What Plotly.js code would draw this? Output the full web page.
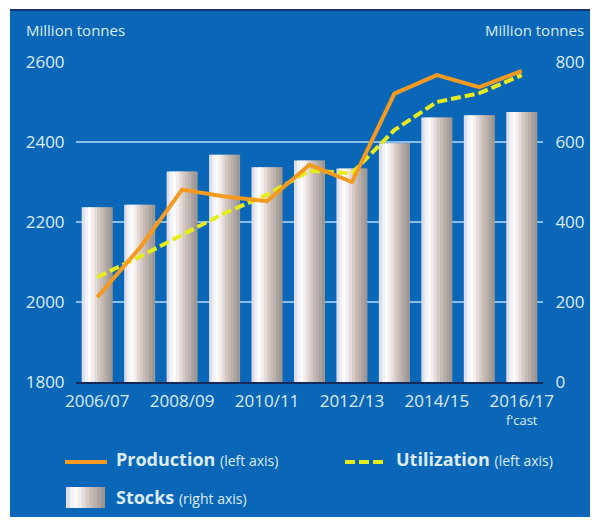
<!DOCTYPE html>
<html>
<head>
<meta charset="utf-8">
<script src="https://cdn.plot.ly/plotly-3.0.1.min.js"></script>
<style>
  html, body { margin: 0; padding: 0; background: #ffffff; width: 595px; height: 520px; overflow: hidden; }
  #topline { position: absolute; left: 10px; top: 9px; width: 580px; height: 2px; background: #1b2f6e; }
  #chart { position: absolute; left: 10px; top: 10px; width: 580px; height: 507px; }
</style>
</head>
<body>
<div id="chart"></div>
<div id="topline"></div>
<script>
// ---- data ----
const years = ['2006/07','2007/08','2008/09','2009/10','2010/11','2011/12','2012/13','2013/14','2014/15','2015/16','2016/17'];
const production = [2012, 2135, 2281, 2264, 2252, 2343, 2300, 2521, 2567, 2537, 2578];
const utilization = [2062, 2113, 2168, 2222, 2268, 2328, 2322, 2430, 2500, 2522, 2567];
const stocks = [437, 443, 526, 568, 537, 554, 534, 597, 661, 667, 675];
const tickYears = ['2006/07','2008/09','2010/11','2012/13','2014/15','2016/17'];
const leftTicks = [1800, 2000, 2200, 2400, 2600];
const rightTicks = [0, 200, 400, 600, 800];

// ---- style ----
const BLUE = '#0a67b7';
const TXT = '#dcecf9';
const FONT = 'Open Sans, DejaVu Sans, sans-serif';
const shades = ['#dcdfeb','#f1f2f7','#fbfbfc','#f2eeee','#e5dbd8','#d6cac5','#c8bbb6','#b9afab','#aaa29f','#9d9794'];
const barW = 0.73;

const traces = [];
const n = shades.length;
shades.forEach((c, i) => {
  const last = i === n - 1;
  traces.push({
    type: 'bar', x: years, y: stocks, yaxis: 'y',
    width: barW / n + (last ? 0 : 0.04), offset: -barW / 2 + i * barW / n,
    marker: { color: c, line: { width: 0 } },
    showlegend: false, hoverinfo: 'skip'
  });
});
traces.push({
  type: 'scatter', mode: 'lines', x: years, y: utilization, yaxis: 'y2',
  line: { color: '#e6ec1c', width: 4, dash: '10px,4px' }, showlegend: false, name: 'Utilization'
});
traces.push({
  type: 'scatter', mode: 'lines', x: years, y: production, yaxis: 'y2',
  line: { color: '#f39a1f', width: 4 }, showlegend: false, name: 'Production'
});

// pixel -> paper helpers (page coordinates; plot area 76..543 x, 62..382 y)
const PX0 = 76, PX1 = 543, PY0 = 62, PY1 = 382;
const px = v => (v - PX0) / (PX1 - PX0);
const py = v => (PY1 - v) / (PY1 - PY0);

const shapes = [
  { type: 'line', xref: 'paper', yref: 'paper', x0: px(65), x1: px(107), y0: py(462), y1: py(462),
    line: { color: '#f39a1f', width: 4 } },
  { type: 'line', xref: 'paper', yref: 'paper', x0: px(345), x1: px(383), y0: py(462), y1: py(462),
    line: { color: '#e6ec1c', width: 4, dash: '10px,4px' } }
];
const sqX0 = 66, sqX1 = 105, sqW = (sqX1 - sqX0) / n;
shades.forEach((c, i) => {
  const last = i === n - 1;
  shapes.push({ type: 'rect', xref: 'paper', yref: 'paper',
    x0: px(sqX0 + i * sqW), x1: px(sqX0 + (i + 1) * sqW + (last ? 0 : 1)), y0: py(508), y1: py(487),
    fillcolor: c, line: { width: 0 } });
});

const annotations = [
  { xref: 'paper', yref: 'paper', x: px(24), y: py(30), xanchor: 'left', yanchor: 'middle', showarrow: false,
    text: 'Million tonnes', font: { family: FONT, size: 15, color: TXT } },
  { xref: 'paper', yref: 'paper', x: px(586), y: py(30), xanchor: 'right', yanchor: 'middle', showarrow: false,
    text: 'Million tonnes', font: { family: FONT, size: 15, color: TXT } },
  { xref: 'x', yref: 'paper', x: '2016/17', y: py(420), xanchor: 'center', yanchor: 'middle', showarrow: false,
    text: "f'cast", font: { family: FONT, size: 13, color: TXT } },
  { xref: 'paper', yref: 'paper', x: px(114), y: py(459), xanchor: 'left', yanchor: 'middle', showarrow: false,
    text: "<b>Production</b> <span style='font-size:14px'>(left axis)</span>", font: { family: FONT, size: 18, color: TXT } },
  { xref: 'paper', yref: 'paper', x: px(394), y: py(459), xanchor: 'left', yanchor: 'middle', showarrow: false,
    text: "<b>Utilization</b> <span style='font-size:14px'>(left axis)</span>", font: { family: FONT, size: 18, color: TXT } },
  { xref: 'paper', yref: 'paper', x: px(114), y: py(497), xanchor: 'left', yanchor: 'middle', showarrow: false,
    text: "<b>Stocks</b> <span style='font-size:14px'>(right axis)</span>", font: { family: FONT, size: 18, color: TXT } }
];

const layout = {
  width: 580, height: 507,
  margin: { l: 66, r: 47, t: 52, b: 135 },
  paper_bgcolor: BLUE, plot_bgcolor: BLUE,
  barmode: 'overlay', bargap: 0.27,
  showlegend: false,
  font: { family: FONT, color: TXT, size: 17 },
  xaxis: {
    type: 'category', categoryorder: 'array', categoryarray: years,
    tickmode: 'array', tickvals: tickYears, ticktext: tickYears,
    showgrid: false, zeroline: false, showline: true, linecolor: '#14285a', linewidth: 2,
    ticks: 'outside', ticklen: 3, tickcolor: 'rgba(0,0,0,0)',
    tickfont: { family: FONT, size: 17, color: TXT }, fixedrange: true
  },
  yaxis: {
    side: 'right', range: [0, 800], tickmode: 'array', tickvals: rightTicks,
    showgrid: true, gridcolor: '#86bdec', gridwidth: 1.5, zeroline: false,
    ticks: 'outside', ticklen: 8, tickcolor: 'rgba(0,0,0,0)',
    tickfont: { family: FONT, size: 17, color: TXT }, fixedrange: true
  },
  yaxis2: {
    overlaying: 'y', side: 'left', range: [1800, 2600], tickmode: 'array', tickvals: leftTicks,
    showgrid: false, zeroline: false,
    ticks: 'outside', ticklen: 7, tickcolor: 'rgba(0,0,0,0)',
    tickfont: { family: FONT, size: 17, color: TXT }, fixedrange: true
  },
  shapes: shapes,
  annotations: annotations
};

Plotly.newPlot('chart', traces, layout, { displayModeBar: false, staticPlot: true });
</script>
</body>
</html>
